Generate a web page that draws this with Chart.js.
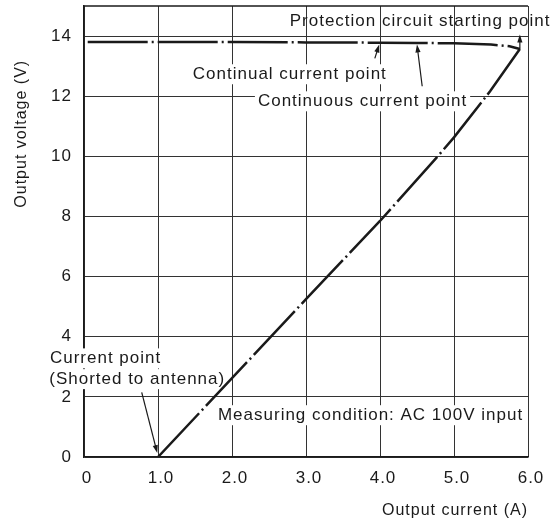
<!DOCTYPE html>
<html><head><meta charset="utf-8">
<script src="https://cdn.jsdelivr.net/npm/chart.js@4"></script>
<style>html,body{margin:0;padding:0;background:#fff}</style>
</head><body>
<canvas id="c" width="557" height="522"></canvas>
<script>
// ---- data ----
const xTicks = [0, 1, 2, 3, 4, 5, 6];
const xTickLabels = ['0', '1.0', '2.0', '3.0', '4.0', '5.0', '6.0'];
const yTicks = [0, 2, 4, 6, 8, 10, 12, 14];
const yTickLabels = ['0', '2', '4', '6', '8', '10', '12', '14'];
const yFrameTop = 15;

const flatCurrent = [0.05, 1.0, 2.0, 3.0, 4.0, 4.5, 5.0, 5.5, 5.75, 5.89];
const flatVoltage = [13.80, 13.80, 13.80, 13.79, 13.78, 13.77, 13.76, 13.72, 13.66, 13.57];
const slopeCurrent = [1.0, 2.0, 3.0, 4.0, 4.78, 5.0, 5.49, 5.89];
const slopeVoltage = [0, 2.62, 5.25, 7.85, 10.0, 10.63, 12.17, 13.57];

const noteTexts = ['Protection circuit starting point', 'Continual current point', 'Continuous current point', 'Current point', '(Shorted to antenna)', 'Measuring condition: AC 100V input'];
const noteX = [2.78, 1.47, 2.35, -0.46, -0.47, 1.81];
const noteY = [14.48, 12.73, 11.83, 3.28, 2.59, 1.39];
const noteBoxed = [false, true, true, true, true, true];

const arrowFromX = [5.89, 3.93, 4.57, 0.78];
const arrowFromY = [13.56, 13.26, 12.33, 2.15];
const arrowToX = [5.89, 3.99, 4.50, 0.99];
const arrowToY = [14.05, 13.72, 13.72, 0.13];

const xTitle = 'Output current (A)';
const yTitle = 'Output voltage (V)';
const yTitleAt = 10.75;

// ---- chart ----
const FONT = '"Liberation Sans", Arial, sans-serif';
const INK = '#1a1a1a';
const SPACING = '1px';
const toPts = (xs, ys) => xs.map((x, i) => ({x: x, y: ys[i]}));

function arrow(ctx, x1, y1, x2, y2) {
  const a = Math.atan2(y2 - y1, x2 - x1);
  ctx.beginPath(); ctx.moveTo(x1, y1); ctx.lineTo(x2 - 4 * Math.cos(a), y2 - 4 * Math.sin(a)); ctx.stroke();
  const L = 8, W = 2.6;
  ctx.beginPath();
  ctx.moveTo(x2, y2);
  ctx.lineTo(x2 - L * Math.cos(a) + W * Math.sin(a), y2 - L * Math.sin(a) - W * Math.cos(a));
  ctx.lineTo(x2 - L * Math.cos(a) - W * Math.sin(a), y2 - L * Math.sin(a) + W * Math.cos(a));
  ctx.closePath(); ctx.fill();
}

const notesPlugin = {
  id: 'notes',
  beforeUpdate(chart) { chart.ctx.letterSpacing = SPACING; },
  beforeDraw(chart) { chart.ctx.letterSpacing = SPACING; },
  beforeDatasetsDraw(chart) {
    const {ctx, scales: {x, y}, chartArea} = chart;
    ctx.save();
    // top frame line
    ctx.strokeStyle = INK; ctx.lineWidth = 1.5;
    ctx.beginPath(); ctx.moveTo(chartArea.left, chartArea.top); ctx.lineTo(chartArea.right, chartArea.top); ctx.stroke();
    ctx.font = '17px ' + FONT;
    ctx.fillStyle = '#fff';
    noteTexts.forEach((t, i) => {
      if (!noteBoxed[i]) return;
      const px = x.getPixelForValue(noteX[i]), py = y.getPixelForValue(noteY[i]);
      const w = ctx.measureText(t).width;
      ctx.fillRect(px - 3, py - 10, w + 6, 20);
    });
    ctx.restore();
  },
  afterDatasetsDraw(chart) {
    const {ctx, scales: {x, y}, chartArea} = chart;
    ctx.save();
    ctx.font = '17px ' + FONT;
    ctx.fillStyle = INK;
    ctx.textAlign = 'left';
    ctx.textBaseline = 'middle';
    noteTexts.forEach((t, i) => {
      ctx.fillText(t, x.getPixelForValue(noteX[i]), y.getPixelForValue(noteY[i]));
    });
    ctx.strokeStyle = INK; ctx.lineWidth = 1.2;
    arrowFromX.forEach((_, i) => {
      arrow(ctx, x.getPixelForValue(arrowFromX[i]), y.getPixelForValue(arrowFromY[i]),
                 x.getPixelForValue(arrowToX[i]), y.getPixelForValue(arrowToY[i]));
    });
    // y axis title
    ctx.font = '16px ' + FONT;
    ctx.translate(chartArea.left - 62, y.getPixelForValue(yTitleAt));
    ctx.rotate(-Math.PI / 2);
    ctx.textAlign = 'center';
    ctx.fillText(yTitle, 0, 0);
    ctx.restore();
  }
};

const lineStyle = {
  borderColor: INK, borderWidth: 2.5, borderDash: [60, 4, 2, 4],
  pointRadius: 0, fill: false, tension: 0
};

new Chart(document.getElementById('c'), {
  type: 'line',
  data: {
    datasets: [
      Object.assign({label: 'Output voltage (flat)', data: toPts(flatCurrent, flatVoltage)}, lineStyle),
      Object.assign({label: 'Output voltage (drooping)', data: toPts(slopeCurrent, slopeVoltage)}, lineStyle)
    ]
  },
  options: {
    responsive: false,
    animation: false,
    layout: {padding: {top: 6, right: 29, left: 0, bottom: 0}},
    plugins: {legend: {display: false}, tooltip: {enabled: false}},
    scales: {
      x: {
        type: 'linear', min: xTicks[0], max: xTicks[xTicks.length - 1],
        afterBuildTicks: s => { s.ticks = xTicks.map(v => ({value: v})); },
        afterFit: s => { s.height = 65; s.paddingLeft = 0; s.paddingRight = 0; },
        ticks: {
          callback: (v) => xTickLabels[xTicks.indexOf(v)],
          font: {size: 17, family: FONT}, color: INK, padding: 11, labelOffset: 3, maxRotation: 0
        },
        grid: {color: '#333', lineWidth: 1, drawTicks: false},
        border: {color: INK, width: 1.5},
        title: {display: true, text: xTitle, align: 'end', color: INK,
                font: {size: 16, family: FONT}, padding: {top: 0, bottom: 2}}
      },
      y: {
        type: 'linear', min: yTicks[0], max: yFrameTop,
        afterBuildTicks: s => { s.ticks = yTicks.map(v => ({value: v})); },
        afterFit: s => { s.width = 84; s.paddingTop = 0; s.paddingBottom = 0; },
        ticks: {
          callback: (v) => { const k = yTicks.indexOf(v); return k < 0 ? '' : yTickLabels[k]; },
          font: {size: 17, family: FONT}, color: INK, padding: 12
        },
        grid: {color: '#333', lineWidth: 1, drawTicks: false},
        border: {color: INK, width: 1.5}
      }
    }
  },
  plugins: [notesPlugin]
});
</script>
</body></html>
